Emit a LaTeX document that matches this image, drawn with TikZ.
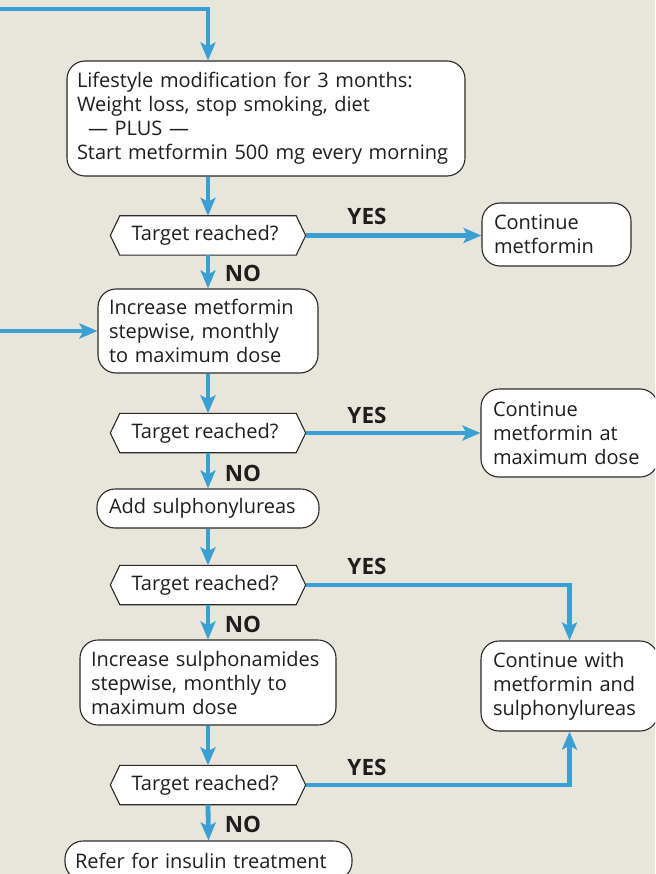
\documentclass[tikz,border=0pt]{standalone}
\usepackage{fontspec}
\setmainfont{Open Sans}
\usetikzlibrary{arrows.meta}
\definecolor{bg}{HTML}{E8E6DA}
\definecolor{flow}{HTML}{3A9FD3}
\definecolor{edge}{HTML}{2A2A2A}
\definecolor{ink}{HTML}{1E1E1E}
\tikzset{
  txt/.style={font=\fontsize{20pt}{24pt}\selectfont, text=ink},
  bx/.style={draw=edge, fill=white, line width=1.1pt, rounded corners=18pt,
    txt, align=left, inner ysep=0pt},
  hx/.style={txt, minimum width=195pt, minimum height=39pt, inner sep=0pt},
  hexline/.style={draw=edge, fill=white, line width=1.1pt},
  arr/.style={draw=flow, line width=4.8pt,
    -{Stealth[length=18pt,width=15pt,inset=4pt]}},
  ans/.style={font=\bfseries\fontsize{22.5pt}{24pt}\selectfont, text=ink, inner sep=0pt}
}
\begin{document}
\begin{tikzpicture}[x=1pt,y=-1pt]
\fill[bg] (0,0) rectangle (655,874);
\useasboundingbox (0,0) rectangle (655,874);
\clip (0,0) rectangle (655,874);

% boxes
\node[bx, minimum width=398pt, minimum height=115pt, text width=378pt, inner xsep=10pt]
  (b1) at (266,118.5) {Lifestyle modification for 3 months:\\Weight loss, stop smoking, diet\\\hspace*{11pt}— PLUS —\\Start metformin 500 mg every morning};
\node[bx, minimum width=149pt, minimum height=63pt, text width=125pt, inner xsep=12pt]
  (c1) at (556.5,234.5) {Continue\\metformin};
\node[bx, minimum width=220pt, minimum height=84pt, text width=198pt, inner xsep=11pt]
  (b2) at (208,331) {Increase metformin\\stepwise, monthly\\to maximum dose};
\node[bx, minimum width=177pt, minimum height=88pt, text width=153pt, inner xsep=12pt]
  (c2) at (569.5,433) {Continue\\metformin at\\maximum dose};
\node[bx, minimum width=222pt, minimum height=39pt, text width=198pt, inner xsep=12pt]
  (b3) at (208,508.5) {Add sulphonylureas};
\node[bx, minimum width=256pt, minimum height=85pt, text width=234pt, inner xsep=11pt]
  (b4) at (208,682.5) {Increase sulphonamides\\stepwise, monthly to\\maximum dose};
\node[bx, minimum width=177pt, minimum height=90pt, text width=153pt, inner xsep=12pt]
  (c3) at (569.5,686) {Continue with\\metformin and\\sulphonylureas};
\node[bx, minimum width=287pt, minimum height=39pt, text width=267pt, inner xsep=10pt]
  (b5) at (208.5,860.5) {Refer for insulin treatment};

% decision hexagons
\foreach \n/\y in {h1/235.5, h2/433, h3/585, h4/785}{
  \node[hx] (\n) at (208,\y) {};
  \path[hexline] ([xshift=9.5pt]\n.north west) -- ([xshift=-9.5pt]\n.north east)
    -- (\n.east) -- ([xshift=-9.5pt]\n.south east) -- ([xshift=9.5pt]\n.south west)
    -- (\n.west) -- cycle;
  \node[txt] at ([xshift=-3pt]\n.center) {Target reached?};
}

% connectors
\coordinate (top) at (0,9);
\coordinate (left) at (0,331);
\draw[arr] (top) -| (h1 |- b1.north);
\draw[arr] (h1 |- b1.south) -- (h1.north);
\draw[arr] (h1.east) -- (h1.east -| c1.west);
\draw[arr] (h1.south) -- (b2.north);
\draw[arr] (left) -- (b2.west);
\draw[arr] (b2.south) -- (h2.north);
\draw[arr] (h2.east) -- (h2.east -| c2.west);
\draw[arr] (h2.south) -- (b3.north);
\draw[arr] (b3.south) -- (h3.north);
\draw[arr] (h3.east) -| (c3.north);
\draw[arr] (h3.south) -- (b4.north);
\draw[arr] (b4.south) -- (h4.north);
\draw[arr] (h4.east) -| (c3.south);
\draw[arr] (h4.south) -- (b5.north);

% answers
\foreach \y in {216,415,566,767}{ \node[ans] at (367,\y) {YES}; }
\foreach \y in {273,473,624,824}{ \node[ans] at (243,\y) {NO}; }
\end{tikzpicture}
\end{document}
